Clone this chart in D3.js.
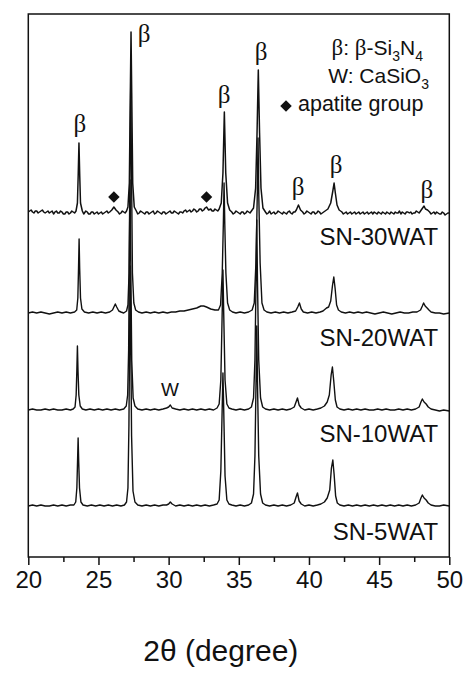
<!DOCTYPE html>
<html><head><meta charset="utf-8">
<script src="https://cdn.jsdelivr.net/npm/d3@7"></script>
<style>body{margin:0;background:#fff}svg{display:block}</style>
</head><body>
<svg id="c" width="472" height="678"></svg>
<script>
// ---- data (2θ in degrees, intensity in a.u.) ----
const xTicks = [20,25,30,35,40,45,50];
const xMinorTicks = [22.5,27.5,32.5,37.5,42.5,47.5];
const sampleNames = ["SN-5WAT","SN-10WAT","SN-20WAT","SN-30WAT"];
const sampleOffsets = [51,147,244,344];
const sampleLabelPos = [[49.2,17],[49.2,115],[49.2,211],[49.2,312]];

const s30 = [[20.0,1],[20.1,2],[20.2,3],[20.3,1],[20.4,0],[20.5,2],[20.6,2],[20.7,0],[20.8,1],[20.9,2],[21.0,3],[21.1,1],[21.2,0],[21.3,1],[21.4,2],[21.5,0],[21.6,1],[21.7,2],[21.8,-1],[21.9,1],[22.0,2],[22.1,0],[22.2,0],[22.3,2],[22.4,1],[22.5,-1],[22.6,-1],[22.7,1],[22.8,1],[22.9,-1],[23.0,0],[23.1,2],[23.2,1],[23.3,0],[23.4,2],[23.5,10],[23.56,40],[23.61,70],[23.66,40],[23.72,10],[23.85,2],[23.95,-1],[24.0,0],[24.1,2],[24.2,1],[24.3,-1],[24.4,-1],[24.5,1],[24.6,1],[24.7,-1],[24.8,0],[24.9,1],[25.0,-1],[25.1,0],[25.2,1],[25.3,-1],[25.4,0],[25.5,1],[25.6,2],[25.7,0],[25.8,1],[25.95,3],[26.1,6],[26.25,3],[26.4,1],[26.5,-1],[26.6,0],[26.7,2],[26.8,1],[26.9,0],[27.0,2],[27.1,6],[27.2,30],[27.27,120],[27.32,181],[27.37,120],[27.44,30],[27.55,6],[27.7,2],[27.8,-1],[27.9,0],[28.0,2],[28.1,1],[28.2,0],[28.3,-1],[28.4,1],[28.5,1],[28.6,-1],[28.7,0],[28.8,1],[28.9,2],[29.0,-1],[29.1,0],[29.2,2],[29.3,1],[29.4,0],[29.5,-1],[29.6,1],[29.7,1],[29.8,-1],[29.9,0],[30.0,1],[30.1,2],[30.2,0],[30.3,0],[30.4,2],[30.5,1],[30.6,0],[30.7,-1],[30.8,1],[30.9,1],[31.0,0],[31.1,2],[31.2,3],[31.3,1],[31.4,2],[31.5,3],[31.6,1],[31.7,2],[31.8,4],[31.9,3],[32.0,1],[32.1,2],[32.2,4],[32.3,4],[32.4,2],[32.5,3],[32.6,5],[32.7,6],[32.85,3],[33.0,4],[33.1,2],[33.2,2],[33.3,4],[33.4,3],[33.5,2],[33.6,4],[33.75,10],[33.87,40],[33.97,101],[34.07,40],[34.2,10],[34.35,3],[34.5,1],[34.6,-1],[34.7,0],[34.8,2],[34.9,1],[35.0,0],[35.1,-1],[35.2,1],[35.3,1],[35.4,-1],[35.5,0],[35.6,2],[35.7,1],[35.8,0],[35.9,2],[36.05,5],[36.2,25],[36.3,80],[36.39,143],[36.48,80],[36.58,25],[36.72,5],[36.9,1],[37.0,-1],[37.1,0],[37.2,2],[37.3,-1],[37.4,0],[37.5,1],[37.6,-1],[37.7,0],[37.8,2],[37.9,1],[38.0,0],[38.1,-1],[38.2,1],[38.3,0],[38.4,-1],[38.5,1],[38.6,2],[38.7,0],[38.8,-1],[38.9,1],[39.0,1],[39.1,3],[39.25,8],[39.4,3],[39.55,1],[39.65,-1],[39.75,0],[39.85,2],[39.95,1],[40.05,0],[40.15,-1],[40.25,1],[40.35,1],[40.45,-1],[40.55,0],[40.65,2],[40.75,1],[40.85,-1],[40.95,0],[41.05,1],[41.15,2],[41.35,4],[41.55,10],[41.7,22],[41.79,30],[41.88,20],[42.0,8],[42.15,3],[42.25,2],[42.35,1],[42.45,-1],[42.55,0],[42.65,1],[42.75,-1],[42.85,0],[42.95,1],[43.05,-1],[43.15,0],[43.25,1],[43.35,-1],[43.45,0],[43.55,1],[43.65,-1],[43.75,0],[43.85,1],[43.95,-1],[44.05,0],[44.15,1],[44.25,-1],[44.35,0],[44.45,1],[44.55,-1],[44.65,1],[44.75,0],[44.85,-1],[44.95,1],[45.05,0],[45.15,-1],[45.25,1],[45.35,0],[45.45,-1],[45.55,1],[45.65,0],[45.75,-1],[45.85,1],[45.95,0],[46.05,-1],[46.15,1],[46.25,0],[46.35,0],[46.45,2],[46.55,-1],[46.65,1],[46.75,0],[46.85,-1],[46.95,1],[47.05,1],[47.15,0],[47.25,1],[47.35,-1],[47.45,0],[47.55,0],[47.65,2],[47.75,1],[47.85,0],[47.95,2],[48.1,5],[48.2,7],[48.3,4],[48.45,3],[48.6,1],[48.7,-1],[48.8,0],[48.9,1],[49.0,-1],[49.1,1],[49.2,0],[49.3,-1],[49.4,-1],[49.5,1],[49.6,0],[49.7,-2],[49.8,-1],[49.9,0],[50.0,0]];

const s20 = [[20.0,0],[20.3,1],[20.6,0],[20.9,1],[21.2,0],[21.5,-1],[21.8,0],[22.1,1],[22.4,0],[22.7,1],[23.0,0],[23.3,1],[23.45,3],[23.53,15],[23.58,45],[23.62,74],[23.66,45],[23.72,15],[23.82,4],[24.0,1],[24.3,0],[24.6,1],[24.9,0],[25.2,1],[25.5,0],[25.8,1],[26.0,3],[26.1,6],[26.2,9],[26.3,6],[26.45,2],[26.6,1],[26.8,0],[27.0,2],[27.1,8],[27.18,40],[27.25,150],[27.3,230],[27.35,150],[27.42,40],[27.52,10],[27.65,3],[27.85,1],[28.1,0],[28.4,1],[28.7,0],[29.0,1],[29.3,0],[29.6,1],[29.9,0],[30.2,1],[30.5,1],[30.8,2],[31.1,2],[31.4,3],[31.7,4],[32.0,5],[32.3,7],[32.5,7],[32.7,6],[33.0,4],[33.3,3],[33.55,3],[33.7,8],[33.82,40],[33.9,90],[33.95,130],[34.0,90],[34.08,40],[34.2,10],[34.35,3],[34.55,1],[34.8,0],[35.1,1],[35.4,0],[35.7,1],[35.95,3],[36.1,10],[36.22,50],[36.32,120],[36.37,175],[36.42,120],[36.52,50],[36.65,10],[36.8,3],[37.0,1],[37.3,0],[37.6,1],[37.9,0],[38.2,1],[38.5,0],[38.8,1],[39.05,2],[39.2,6],[39.32,10],[39.45,4],[39.6,1],[39.9,0],[40.2,1],[40.5,0],[40.8,1],[41.0,2],[41.25,5],[41.4,6],[41.55,12],[41.68,28],[41.77,36],[41.86,25],[41.97,8],[42.1,3],[42.3,1],[42.6,0],[42.9,1],[43.2,0],[43.5,1],[43.8,0],[44.1,1],[44.4,0],[44.7,-1],[45.0,0],[45.3,1],[45.6,0],[45.9,-1],[46.2,0],[46.5,1],[46.8,0],[47.1,0],[47.4,1],[47.7,1],[47.95,3],[48.08,7],[48.17,10],[48.28,7],[48.42,5],[48.55,3],[48.7,1],[49.0,0],[49.3,0],[49.6,-1],[50.0,0]];

const s10 = [[20.0,0],[20.3,1],[20.6,0],[20.9,0],[21.2,1],[21.5,0],[21.8,1],[22.1,0],[22.4,0],[22.7,1],[23.0,0],[23.2,1],[23.33,3],[23.41,15],[23.46,40],[23.5,64],[23.54,40],[23.6,15],[23.7,4],[23.85,1],[24.1,0],[24.4,1],[24.7,0],[25.0,1],[25.3,0],[25.6,1],[25.9,0],[26.2,1],[26.5,0],[26.8,1],[26.98,4],[27.08,15],[27.15,60],[27.2,150],[27.25,230],[27.3,150],[27.37,50],[27.47,12],[27.6,4],[27.8,1],[28.1,0],[28.4,1],[28.7,0],[29.0,1],[29.3,0],[29.6,1],[29.85,2],[30.0,3],[30.12,5],[30.25,2],[30.5,1],[30.8,0],[31.1,1],[31.4,0],[31.7,1],[32.0,0],[32.3,1],[32.6,0],[32.9,1],[33.2,0],[33.45,2],[33.6,6],[33.72,30],[33.82,100],[33.87,140],[33.92,100],[34.02,30],[34.15,6],[34.3,2],[34.5,1],[34.8,0],[35.1,1],[35.4,0],[35.7,1],[35.9,3],[36.05,12],[36.15,50],[36.23,130],[36.28,190],[36.33,130],[36.42,50],[36.55,12],[36.7,3],[36.9,1],[37.2,0],[37.5,1],[37.8,0],[38.1,1],[38.4,0],[38.7,1],[38.95,3],[39.08,8],[39.18,12],[39.3,5],[39.45,2],[39.7,0],[40.0,1],[40.3,0],[40.6,1],[40.85,2],[41.1,4],[41.3,8],[41.45,15],[41.58,35],[41.67,43],[41.76,30],[41.88,10],[42.0,3],[42.2,1],[42.5,0],[42.8,1],[43.1,0],[43.4,1],[43.7,0],[44.0,1],[44.3,0],[44.6,0],[44.9,1],[45.2,0],[45.5,1],[45.8,0],[46.1,0],[46.4,1],[46.7,0],[47.0,1],[47.3,0],[47.6,1],[47.85,3],[47.98,8],[48.08,11],[48.2,8],[48.35,6],[48.5,3],[48.7,1],[49.0,0],[49.3,-1],[49.6,0],[50.0,-1]];

const s5 = [[20.0,0],[20.3,1],[20.6,0],[20.9,1],[21.2,0],[21.5,0],[21.8,1],[22.1,0],[22.4,1],[22.7,0],[23.0,1],[23.25,1],[23.38,4],[23.46,18],[23.51,45],[23.55,68],[23.59,45],[23.65,18],[23.75,4],[23.9,1],[24.2,0],[24.5,1],[24.8,0],[25.1,1],[25.4,0],[25.7,1],[26.0,0],[26.3,1],[26.6,0],[26.85,1],[27.0,4],[27.1,18],[27.17,80],[27.22,170],[27.26,240],[27.3,170],[27.36,70],[27.46,15],[27.6,4],[27.8,1],[28.1,0],[28.4,1],[28.7,0],[29.0,1],[29.3,0],[29.6,1],[29.85,1],[30.0,2],[30.12,4],[30.25,2],[30.5,0],[30.8,1],[31.1,0],[31.4,1],[31.7,0],[32.0,1],[32.3,0],[32.6,1],[32.9,0],[33.2,1],[33.45,2],[33.6,6],[33.72,35],[33.82,100],[33.87,133],[33.92,100],[34.02,30],[34.15,6],[34.3,2],[34.5,1],[34.8,0],[35.1,1],[35.4,0],[35.7,1],[35.9,3],[36.05,12],[36.15,50],[36.23,125],[36.28,180],[36.33,125],[36.42,50],[36.55,12],[36.7,3],[36.9,1],[37.2,0],[37.5,1],[37.8,0],[38.1,1],[38.4,0],[38.7,1],[38.95,3],[39.08,9],[39.18,13],[39.3,5],[39.45,2],[39.7,0],[40.0,1],[40.3,0],[40.6,1],[40.85,2],[41.1,4],[41.3,8],[41.48,16],[41.6,38],[41.7,46],[41.79,32],[41.9,10],[42.02,3],[42.2,1],[42.5,0],[42.8,1],[43.1,0],[43.4,1],[43.7,0],[44.0,1],[44.3,0],[44.6,1],[44.9,0],[45.2,1],[45.5,0],[45.8,1],[46.1,0],[46.4,1],[46.7,0],[47.0,1],[47.3,0],[47.6,1],[47.85,3],[47.98,8],[48.08,11],[48.2,8],[48.35,6],[48.5,3],[48.7,1],[49.0,0],[49.3,0],[49.6,1],[50.0,0]];

const seriesData = [s5, s10, s20, s30];

// phase markers (2θ, absolute intensity position)
const betaLabels = [[23.68,425],[28.25,515],[33.95,454],[36.59,497],[39.22,362],[41.93,384],[48.41,359]];
const wLabels = [[30.1,161]];
const apatiteMarks = [[26.1,360],[32.7,360]];

// ---- chart ----
const mL = 28.3, mR = 449.3, mT = 14, mB = 557;
const svg = d3.select("#c");
const x = d3.scaleLinear().domain([20,50]).range([mL,mR]);
const y = d3.scaleLinear().domain([0,543]).range([mB,mT]);
const sans = "'Liberation Sans', Arial, sans-serif";
const serif = "'Liberation Serif', 'Times New Roman', serif";

const line = d3.line().x(d => x(d[0])).y(d => y(d[1]));
const g = svg.append("g");
seriesData.forEach((s, i) => {
  const off = sampleOffsets[i];
  g.append("path")
    .datum(s.map(p => [p[0], p[1] + off]))
    .attr("d", line)
    .attr("fill", "none")
    .attr("stroke", "#111")
    .attr("stroke-width", i === 3 ? 1.5 : 1.4)
    .attr("stroke-linejoin", "round");
});

// frame
svg.append("rect").attr("x", mL).attr("y", mT)
  .attr("width", mR-mL).attr("height", mB-mT)
  .attr("fill","none").attr("stroke","#111").attr("stroke-width",1.5);

// x axis
const ax = svg.append("g").attr("transform", `translate(0,${mB})`)
  .call(d3.axisBottom(x).tickValues(xTicks).tickSize(8).tickPadding(6).tickFormat(d3.format("d")));
ax.select(".domain").remove();
ax.selectAll("line").attr("stroke","#111").attr("stroke-width",1.5);
ax.selectAll("text").attr("font-family", sans).attr("font-size", 24).attr("fill","#111");
const axm = svg.append("g").attr("transform", `translate(0,${mB})`)
  .call(d3.axisBottom(x).tickValues(xMinorTicks).tickSize(5).tickFormat(""));
axm.select(".domain").remove();
axm.selectAll("line").attr("stroke","#111").attr("stroke-width",1.5);

svg.append("text").attr("x", (mL+mR)/2 - 18).attr("y", 661)
  .attr("text-anchor","middle").attr("font-family", sans).attr("font-size", 30).attr("fill","#111")
  .text("2θ (degree)");

// sample labels
sampleNames.forEach((n, i) => {
  svg.append("text").attr("x", x(sampleLabelPos[i][0])).attr("y", y(sampleLabelPos[i][1]))
    .attr("text-anchor","end").attr("font-family", sans).attr("font-size", 24).attr("fill","#111")
    .text(n);
});

// beta labels
betaLabels.forEach(d => {
  svg.append("text").attr("x", x(d[0])).attr("y", y(d[1]))
    .attr("text-anchor","middle").attr("font-family", serif).attr("font-size", 25).attr("fill","#111")
    .text("β");
});
wLabels.forEach(d => {
  svg.append("text").attr("x", x(d[0])).attr("y", y(d[1]))
    .attr("text-anchor","middle").attr("font-family", sans).attr("font-size", 19).attr("fill","#111")
    .text("W");
});
const diamond = d3.symbol().type(d3.symbolSquare).size(66);
apatiteMarks.forEach(d => {
  svg.append("path").attr("d", diamond())
    .attr("transform", `translate(${x(d[0])},${y(d[1])}) rotate(45)`).attr("fill","#111");
});

// legend
const l1 = svg.append("text").attr("x", 423).attr("y", 55).attr("text-anchor","end")
  .attr("font-family", sans).attr("font-size", 21).attr("fill","#111");
l1.append("tspan").attr("font-family", serif).attr("font-size", 23).text("β");
l1.append("tspan").text(": ");
l1.append("tspan").attr("font-family", serif).attr("font-size", 23).text("β");
l1.append("tspan").text("-Si");
l1.append("tspan").attr("font-size", 14).attr("dy", 6).text("3");
l1.append("tspan").attr("dy", -6).text("N");
l1.append("tspan").attr("font-size", 14).attr("dy", 6).text("4");

const l2 = svg.append("text").attr("x", 429).attr("y", 83).attr("text-anchor","end")
  .attr("font-family", sans).attr("font-size", 21).attr("fill","#111");
l2.append("tspan").text("W: CaSiO");
l2.append("tspan").attr("font-size", 14).attr("dy", 6).text("3");

svg.append("path").attr("d", diamond())
  .attr("transform", "translate(286,106) rotate(45)").attr("fill","#111");
svg.append("text").attr("x", 298).attr("y", 111)
  .attr("font-family", sans).attr("font-size", 21.5).attr("fill","#111").text("apatite group");
</script>
</body></html>
